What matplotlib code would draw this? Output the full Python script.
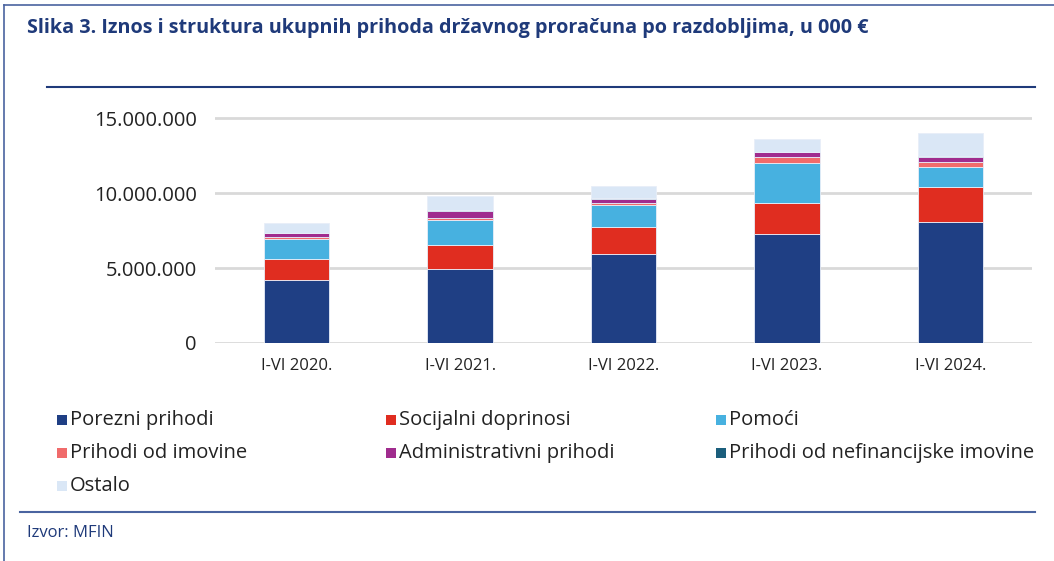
import matplotlib
matplotlib.use("Agg")
import matplotlib.pyplot as plt
from matplotlib.patches import Rectangle
from matplotlib.lines import Line2D
from matplotlib.ticker import FuncFormatter, MultipleLocator
import numpy as np

categories = ["I-VI 2020.", "I-VI 2021.", "I-VI 2022.", "I-VI 2023.", "I-VI 2024."]
series_names = ["Porezni prihodi", "Socijalni doprinosi", "Pomoći",
                "Prihodi od imovine", "Administrativni prihodi",
                "Prihodi od nefinancijske imovine", "Ostalo"]
porezni = [4200000, 4910000, 5910000, 7290000, 8090000]
socijalni = [1400000, 1620000, 1820000, 2060000, 2330000]
pomoci = [1330000, 1670000, 1490000, 2650000, 1330000]
imovina = [150000, 150000, 110000, 420000, 320000]
administrativni = [250000, 470000, 290000, 290000, 350000]
nefinancijska = [20000, 20000, 30000, 20000, 50000]
ostalo = [630000, 960000, 800000, 850000, 1550000]
series = [porezni, socijalni, pomoci, imovina, administrativni, nefinancijska, ostalo]
colors = ["#1F3F84", "#E02D20", "#47B1E0", "#F06B6B", "#A02C8E", "#1B5E7C", "#DAE7F6"]

W, H = 1054, 561
fig = plt.figure(figsize=(W / 100, H / 100), dpi=100)
fig.patch.set_facecolor("white")

FONT = "Open Sans"
title_col = "#1F3A7A"
frame_col = "#4A64A0"

# frame lines
fig.add_artist(Line2D([4 / W, 4 / W], [0, 1 - 5 / H], transform=fig.transFigure, color=frame_col, lw=1.2))
fig.add_artist(Line2D([4 / W, 1], [1 - 5 / H, 1 - 5 / H], transform=fig.transFigure, color=frame_col, lw=1.2))
fig.add_artist(Line2D([47 / W, 1035 / W], [1 - 87 / H, 1 - 87 / H], transform=fig.transFigure, color=title_col, lw=1.5))
fig.add_artist(Line2D([20 / W, 1035 / W], [1 - 512 / H, 1 - 512 / H], transform=fig.transFigure, color=frame_col, lw=1.5))

fig.text(27 / W, 1 - 28 / H, "Slika 3. Iznos i struktura ukupnih prihoda državnog proračuna po razdobljima, u 000 €",
         fontsize=14.2, fontweight="bold", color=title_col, family=FONT, va="center", ha="left")
fig.text(27 / W, 1 - 533 / H, "Izvor: MFIN", fontsize=12, color=title_col, family=FONT, va="center", ha="left")

ymax = 15300000
px_per_unit = 225 / 15000000
top_px = 343 - ymax * px_per_unit
ax = fig.add_axes([215 / W, 1 - 343 / H, 817 / W, (343 - top_px) / H])
x = np.arange(len(categories))
bottom = np.zeros(len(categories))
for vals, c in zip(series, colors):
    ax.bar(x, vals, width=0.4, bottom=bottom, color=c, edgecolor="#E8EEF8", linewidth=0.6, zorder=3)
    bottom += np.array(vals)

ax.set_xlim(-0.5, len(categories) - 0.5)
ax.set_ylim(0, ymax)
ax.yaxis.set_major_locator(MultipleLocator(5000000))
ax.yaxis.set_major_formatter(FuncFormatter(lambda v, p: f"{int(v):,}".replace(",", ".")))
ax.set_xticks(x)
ax.set_xticklabels(categories)
for s in ax.spines.values():
    s.set_visible(False)
ax.grid(axis="y", color="#D9D9D9", linewidth=2, zorder=0)
ax.tick_params(axis="both", length=0)
ax.tick_params(axis="y", labelsize=14.5, pad=13, labelcolor="#222222")
ax.tick_params(axis="x", labelsize=12, pad=11, labelcolor="#222222")
for lab in ax.get_xticklabels() + ax.get_yticklabels():
    lab.set_family(FONT)

# legend
leg_x = [57, 386, 716]
leg_y = [420, 453, 486]
for i, (name, c) in enumerate(zip(series_names, colors)):
    r, col = divmod(i, 3)
    sx, sy = leg_x[col], leg_y[r]
    fig.add_artist(Rectangle(((sx) / W, 1 - (sy + 5) / H), 10 / W, 10 / H,
                             transform=fig.transFigure, facecolor=c, edgecolor="none"))
    fig.text((sx + 13) / W, 1 - sy / H, name, fontsize=14.5, color="#222222", family=FONT,
             va="center", ha="left")

fig.savefig("out.png", dpi=100, facecolor="white")
